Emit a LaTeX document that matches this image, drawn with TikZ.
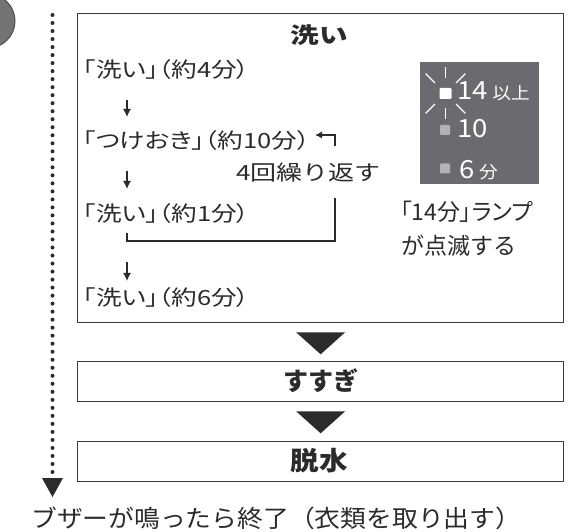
\documentclass[tikz,border=0pt]{standalone}
\usepackage{fontspec}
\usepackage{graphicx}
\usetikzlibrary{arrows.meta,calc}
\newfontfamily\jp{Noto Sans CJK JP}
\newfontfamily\jpp{Noto Sans CJK JP}[RawFeature=+palt]
\definecolor{ink}{HTML}{2B2B2B}
\definecolor{rule}{HTML}{3A3A3A}
\definecolor{panelgray}{HTML}{6B6B6F}
\definecolor{dimsq}{HTML}{B3B3B3}
\tikzset{
  box/.style={draw=rule, line width=1.3pt, inner sep=0pt, anchor=north west},
  head/.style={font=\jp\bfseries, text=ink, inner sep=0pt},
  body/.style={font=\jpp\fontsize{21}{21}\selectfont, text=ink, inner sep=0pt, anchor=west},
  plainbody/.style={font=\jp\fontsize{21}{21}\selectfont, text=ink, inner sep=0pt},
  smallarrow/.style={draw=ink, line width=1.2pt, -{Latex[length=8pt,width=8pt]}},
  loopline/.style={draw=ink, line width=1.1pt},
  bigtri/.style={fill=ink},
  dotline/.style={draw=ink, line width=4pt, line cap=round, dash pattern=on 0pt off 8.0175pt},
  ray/.style={draw=white, line width=1.4pt},
  lampsq/.style={rounded corners=1.2pt, minimum size=10pt, inner sep=0pt},
  lamptext/.style={text=white, inner sep=0pt, anchor=base west, font=\jp},
}
\begin{document}
\begin{tikzpicture}[x=1pt,y=-1pt]
\useasboundingbox (0,0) rectangle (582,532);
% partial circle marker at the left edge
\begin{scope}
\clip (0,0) rectangle (582,532);
\fill[fill=black!55, draw=black!70, line width=1pt] (-12,21) circle (27);
\end{scope}
% dotted timeline
\coordinate (dtop) at (52.5,15);
\coordinate (dbot) at (52.5,472);
\draw[dotline] (dtop) -- (dbot);
\fill[bigtri] (42,478) -- (63,478) -- (52.5,497) -- cycle;
% main wash box
\node[box, minimum width=486pt, minimum height=309pt] (wash) at (77,13) {};
\node[head] (t1) at (319,35.5) {\fontsize{22}{22}\selectfont\scalebox{1.3}[1]{洗い}};
\node[body] (l1) at (83,70) {\scalebox{1.22}[1]{「洗い」（約4分）}};
\node[body] (l2) at (83,141) {\scalebox{1.22}[1]{「つけおき」（約10分）}};
\node[body] (l3) at (83,214) {\scalebox{1.22}[1]{「洗い」（約1分）}};
\node[body] (l4) at (83,298) {\scalebox{1.22}[1]{「洗い」（約6分）}};
\node[plainbody] (rep) at (308.5,173) {\scalebox{1.24}[1]{4回繰り返す}};
\coordinate (a1s) at (127,100); \coordinate (a1e) at (127,117);
\coordinate (a2s) at (127,171); \coordinate (a2e) at (127,189);
\coordinate (a3s) at (127,262); \coordinate (a3e) at (127,281);
\draw[smallarrow] (a1s) -- (a1e);
\draw[smallarrow] (a2s) -- (a2e);
\draw[smallarrow] (a3s) -- (a3e);
% repeat loop
\coordinate (p0) at (127,233);
\coordinate (p1) at (127,241);
\coordinate (p2) at (335,241);
\coordinate (p3) at (335,198);
\coordinate (q0) at (335,146);
\coordinate (q1) at (335,135);
\coordinate (q2) at (315,135);
\draw[loopline] (p0) -- (p1) -- (p2) -- (p3);
\draw[loopline, -{Latex[length=7pt,width=7pt]}] (q0) -- (q1) -- (q2);
% lamp panel
\node[fill=panelgray, inner sep=0pt, anchor=north west, minimum width=119pt, minimum height=122pt] (panel) at (420,62) {};
\node[lampsq, fill=white, minimum width=12pt, minimum height=11pt] (lamp) at (445.5,93.5) {};
\foreach \a/\ri/\ro in {90/15/26, 270/15/26, 45/15/28, 135/15/28, 225/15/28, 315/15/28}
  \draw[ray] ($(lamp)+(\a:\ri)$) -- ($(lamp)+(\a:\ro)$);
\node[lamptext] (n14) at (457,100) {\scalebox{1.1}[1]{\fontsize{25}{25}\selectfont 14\,\fontsize{17}{17}\selectfont 以上}};
\node[lampsq, fill=dimsq] (sq10) at (445,130) {};
\node[lamptext] (n10) at (457,138) {\scalebox{1.1}[1]{\fontsize{25}{25}\selectfont 10}};
\node[lampsq, fill=dimsq] (sq6) at (445,168.5) {};
\node[lamptext] (n6) at (459,179) {\scalebox{1.1}[1]{\fontsize{25}{25}\selectfont 6\,\fontsize{17}{17}\selectfont 分}};
\node[body, font=\jpp\fontsize{23}{23}\selectfont] (r1) at (400,211.5) {「14分」ランプ};
\node[body, font=\jp\fontsize{23}{23}\selectfont] (r2) at (401,246) {が点滅する};
% rinse and spin
\node[box, minimum width=486pt, minimum height=40pt] (rinse) at (77,361) {};
\node[head] (t2) at (321,381) {\fontsize{25}{25}\selectfont すすぎ};
\node[box, minimum width=486pt, minimum height=40pt] (spin) at (77,441) {};
\node[head] (t3) at (319.5,461) {\fontsize{26}{26}\selectfont\scalebox{1.1}[1]{脱水}};
\fill[bigtri] ($(wash.south)+(-24.5,9)$) -- ($(wash.south)+(24.5,9)$) -- ($(wash.south)+(0,31)$) -- cycle;
\fill[bigtri] ($(rinse.south)+(-24.5,9)$) -- ($(rinse.south)+(24.5,9)$) -- ($(rinse.south)+(0,31)$) -- cycle;
% end text
\node[body, font=\jp\fontsize{24}{24}\selectfont] (endt) at (31,518) {\scalebox{1.075}[1]{ブザーが鳴ったら終了（衣類を取り出す）}};
\end{tikzpicture}
\end{document}
